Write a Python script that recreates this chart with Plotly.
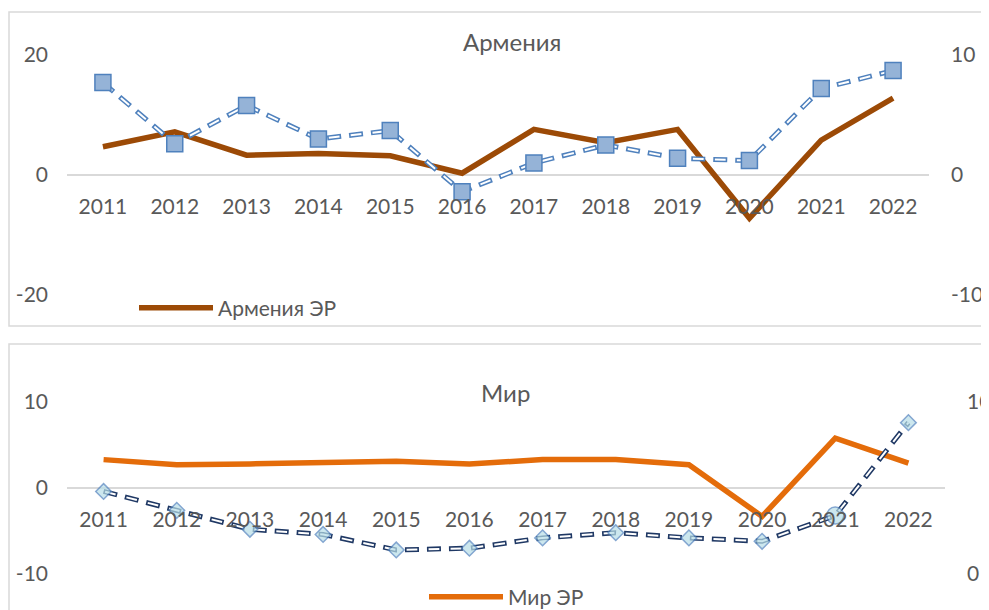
import plotly.graph_objects as go

W, H = 989, 610
OFF = 8  # page body margin

years = ["2011", "2012", "2013", "2014", "2015", "2016",
         "2017", "2018", "2019", "2020", "2021", "2022"]

armenia_er = [4.7, 7.2, 3.3, 3.6, 3.2, 0.3, 7.6, 5.4, 7.6, -7.2, 5.8, 12.8]
armenia_inf = [7.7, 2.6, 5.8, 3.0, 3.7, -1.4, 1.0, 2.5, 1.4, 1.2, 7.2, 8.7]

world_er = [3.3, 2.7, 2.8, 3.0, 3.1, 2.8, 3.3, 3.3, 2.7, -3.3, 5.8, 2.9]
world_inf = [4.8, 3.7, 2.6, 2.3, 1.4, 1.5, 2.1, 2.4, 2.1, 1.9, 3.4, 8.8]

left_ticks_top = [-20, 0, 20]
right_ticks_top = [-10, 0, 10]
left_ticks_bot = [-10, 0, 10]
right_ticks_bot = [0, 10]

FONT = "Lato, 'Noto Sans', sans-serif"
TXT = "#595959"
GRID = "#d9d9d9"
DASH_OUT = "14px,8px"
DASH_IN = "0px,1.6px,10.8px,9.6px"


def px_x(v):
    return (v - OFF) / W


def px_y(v):
    return 1 - (v - OFF) / H


def labels(vals):
    return [str(v) for v in vals]


fig = go.Figure()

# ---- Top panel: Armenia ----
fig.add_trace(go.Scatter(x=years, y=armenia_er, mode="lines", name="Армения ЭР",
                         line=dict(color="#9c4a06", width=5.5),
                         xaxis="x", yaxis="y", legend="legend", showlegend=True))
fig.add_trace(go.Scatter(x=years, y=armenia_inf, mode="lines",
                         line=dict(color="#4f81bd", width=5, dash=DASH_OUT),
                         xaxis="x", yaxis="y2", showlegend=False))
fig.add_trace(go.Scatter(x=years, y=armenia_inf, mode="lines",
                         line=dict(color="white", width=2, dash=DASH_IN),
                         xaxis="x", yaxis="y2", showlegend=False))
fig.add_trace(go.Scatter(x=years, y=armenia_inf, mode="markers",
                         marker=dict(symbol="square", size=16, color="#95b3d7",
                                     line=dict(color="#4f81bd", width=1.5)),
                         xaxis="x", yaxis="y2", showlegend=False))

# ---- Bottom panel: World ----
fig.add_trace(go.Scatter(x=years, y=world_er, mode="lines", name="Мир ЭР",
                         line=dict(color="#e46c0a", width=5.5),
                         xaxis="x2", yaxis="y3", legend="legend2", showlegend=True))
fig.add_trace(go.Scatter(x=years, y=world_inf, mode="lines",
                         line=dict(color="#1f3864", width=5, dash=DASH_OUT),
                         xaxis="x2", yaxis="y4", showlegend=False))
fig.add_trace(go.Scatter(x=years, y=world_inf, mode="lines",
                         line=dict(color="white", width=2, dash=DASH_IN),
                         xaxis="x2", yaxis="y4", showlegend=False))
symbols = ["diamond"] * len(years)
sizes = [12] * len(years)
symbols[10] = "circle"
sizes[10] = 17
fig.add_trace(go.Scatter(x=years, y=world_inf, mode="markers",
                         marker=dict(symbol=symbols, size=sizes, color="#b7dee8",
                                     line=dict(color="#4f81bd", width=1.5)),
                         xaxis="x2", yaxis="y4", showlegend=False))

tickfont = dict(family=FONT, size=21, color=TXT)
legfont = dict(family=FONT, size=21, color=TXT)
n = len(years)

fig.update_layout(
    width=W, height=H,
    margin=dict(l=0, r=0, t=0, b=0, autoexpand=False),
    paper_bgcolor="white", plot_bgcolor="white",
    font=dict(family=FONT, color=TXT),
    xaxis=dict(domain=[px_x(67), px_x(929)], anchor="free", position=px_y(175),
               type="category", range=[-0.5, n - 0.5], showgrid=False, showline=False,
               zeroline=False, ticks="", tickfont=tickfont, ticklabelstandoff=17),
    yaxis=dict(domain=[px_y(295), px_y(55)], range=[-20, 20],
               tickvals=left_ticks_top, ticktext=labels(left_ticks_top),
               showgrid=True, gridcolor=GRID, gridwidth=1.5, zeroline=False,
               showline=False, ticks="", tickfont=tickfont, ticklabelstandoff=18,
               anchor="x"),
    yaxis2=dict(overlaying="y", side="right", range=[-10, 10],
                tickvals=right_ticks_top, ticktext=labels(right_ticks_top),
                showgrid=False, zeroline=False, showline=False, ticks="",
                tickfont=tickfont, ticklabelstandoff=21, anchor="x"),
    xaxis2=dict(domain=[px_x(67), px_x(945)], anchor="free", position=px_y(488),
                type="category", range=[-0.5, n - 0.5], showgrid=False, showline=False,
                zeroline=False, ticks="", tickfont=tickfont, ticklabelstandoff=17),
    yaxis3=dict(domain=[px_y(574), px_y(402)], range=[-10, 10],
                tickvals=left_ticks_bot, ticktext=labels(left_ticks_bot),
                showgrid=True, gridcolor=GRID, gridwidth=1.5, zeroline=False,
                showline=False, ticks="", tickfont=tickfont, ticklabelstandoff=18,
                anchor="x2"),
    yaxis4=dict(overlaying="y3", side="right", range=[0, 10],
                tickvals=right_ticks_bot, ticktext=labels(right_ticks_bot),
                showgrid=False, zeroline=False, showline=False, ticks="",
                tickfont=tickfont, ticklabelstandoff=21, anchor="x2"),
    legend=dict(x=px_x(134), y=px_y(308), xanchor="left", yanchor="middle",
                bgcolor="rgba(0,0,0,0)", font=legfont, itemwidth=74),
    legend2=dict(x=px_x(424), y=px_y(597), xanchor="left", yanchor="middle",
                 bgcolor="rgba(0,0,0,0)", font=legfont, itemwidth=74),
    annotations=[
        dict(text="Армения", x=px_x(512), y=px_y(42), xref="paper", yref="paper",
             xanchor="center", yanchor="middle",
             showarrow=False, font=dict(family=FONT, size=24, color=TXT)),
        dict(text="Мир", x=px_x(505), y=px_y(392), xref="paper", yref="paper",
             xanchor="center", yanchor="middle",
             showarrow=False, font=dict(family=FONT, size=24, color=TXT)),
    ],
    shapes=[
        dict(type="rect", xref="paper", yref="paper", x0=px_x(9), x1=px_x(988),
             y0=px_y(326), y1=px_y(12), line=dict(color=GRID, width=1.5), layer="below"),
        dict(type="rect", xref="paper", yref="paper", x0=px_x(9), x1=px_x(1005),
             y0=px_y(630), y1=px_y(344), line=dict(color=GRID, width=1.5), layer="below"),
    ],
)

fig.write_html("out.html")
